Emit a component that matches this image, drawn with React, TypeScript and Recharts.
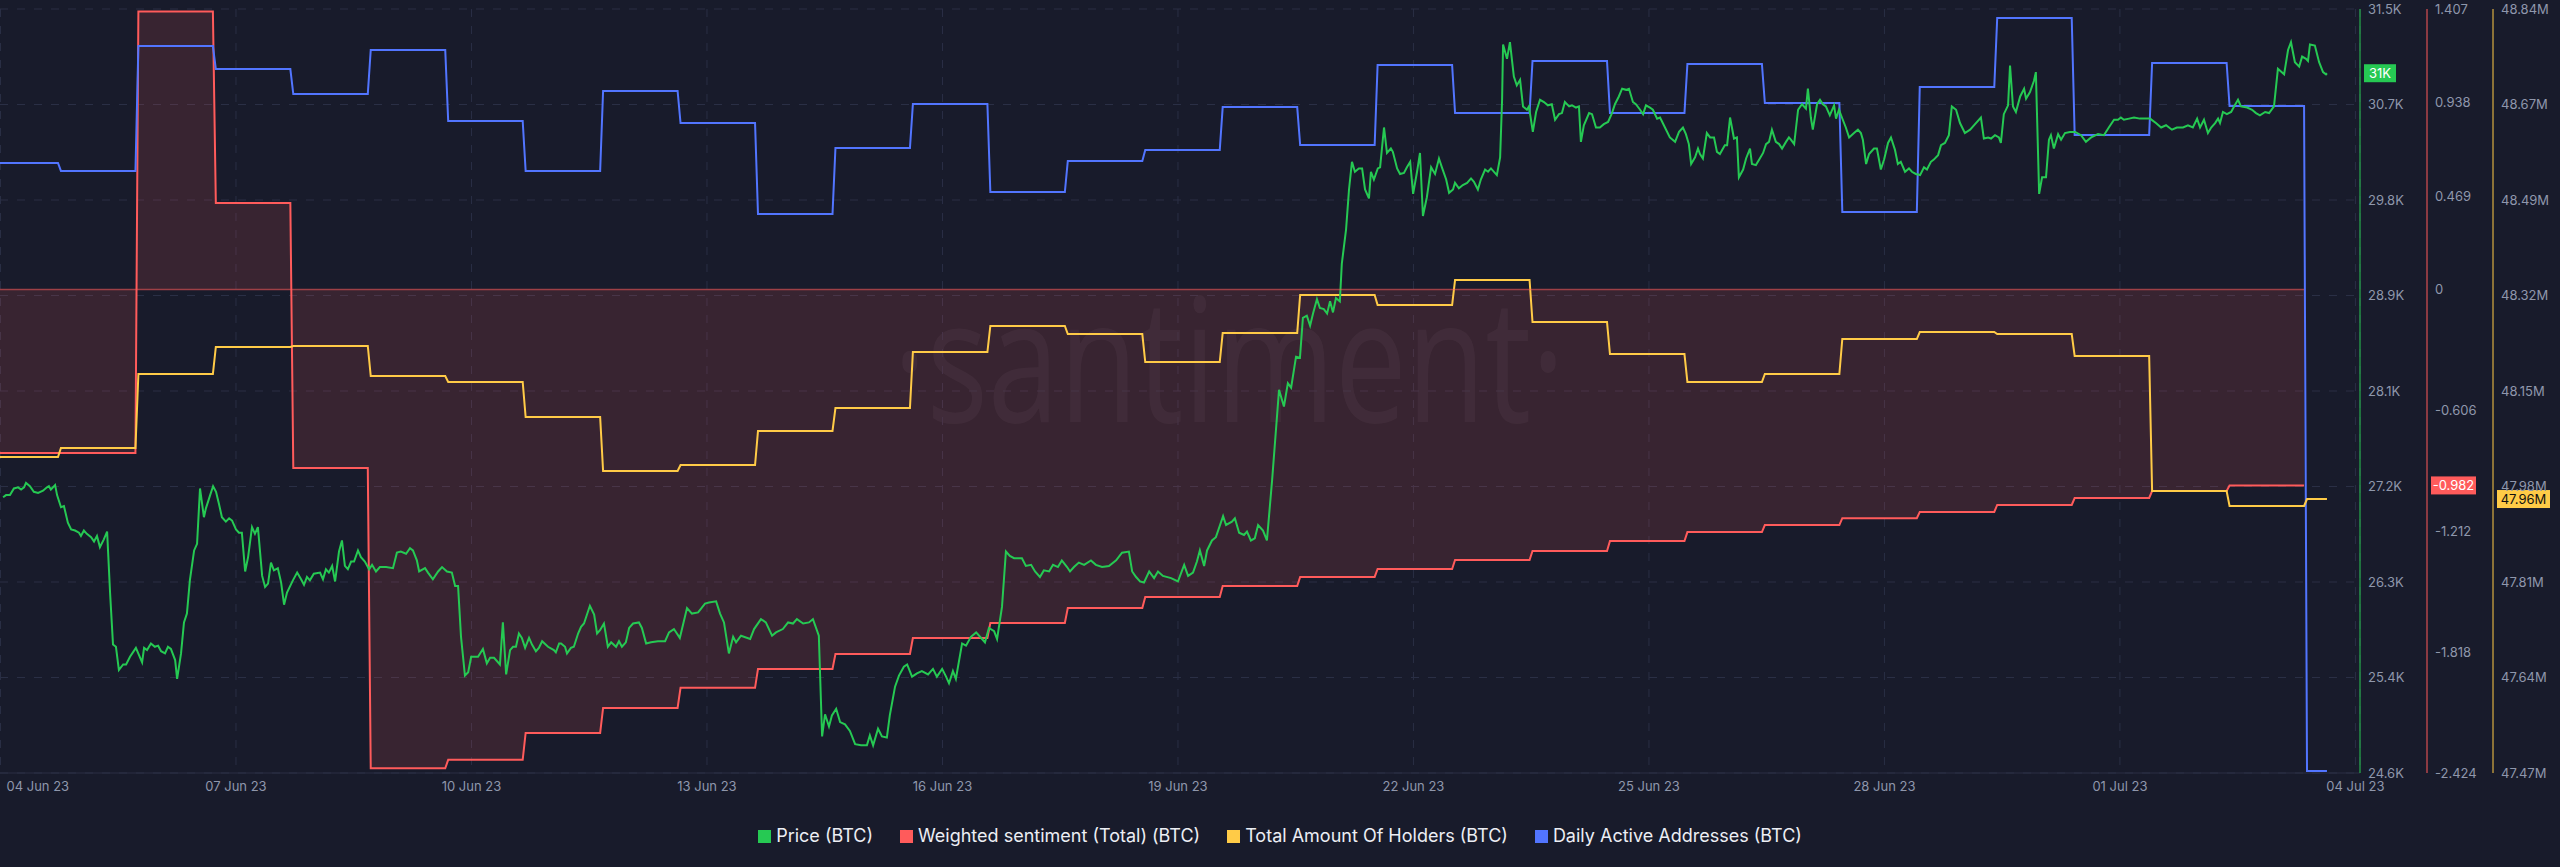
import React from 'react';
import { ComposedChart, Line, Area, XAxis, YAxis, CartesianGrid, ReferenceLine } from 'recharts';

const BG = '#181b2b';
const GRID = '#2a2f45';
const TICK = '#8f97ab';
const C_PRICE = '#26C953';
const C_SENT = '#FF5B5B';
const C_HOLD = '#FFCB47';
const C_DAA = '#5275FF';

// axis ids (Recharts orders right-side axes by id)
const AX_PRICE = 'a_price';
const AX_SENT = 'b_sent';
const AX_HOLD = 'c_hold';
const AX_DAA = 'd_daa';

// x axis: hours since 04 Jun 23 00:00
const DATE_TICKS = [0, 72, 144, 216, 288, 360, 432, 504, 576, 648, 720];
const DATE_LABELS = ['04 Jun 23', '07 Jun 23', '10 Jun 23', '13 Jun 23', '16 Jun 23', '19 Jun 23', '22 Jun 23', '25 Jun 23', '28 Jun 23', '01 Jul 23', '04 Jul 23'];

const PRICE_TICKS = [24600, 25462.5, 26325, 27187.5, 28050, 28912.5, 29775, 30637.5, 31500];
const PRICE_LABELS = ['24.6K', '25.4K', '26.3K', '27.2K', '28.1K', '28.9K', '29.8K', '30.7K', '31.5K'];
const SENT_TICKS = [-2.424, -1.818, -1.212, -0.606, 0, 0.469, 0.938, 1.407];
const SENT_LABELS = ['-2.424', '-1.818', '-1.212', '-0.606', '0', '0.469', '0.938', '1.407'];
const HOLD_TICKS = [47470000, 47641250, 47812500, 47983750, 48155000, 48326250, 48497500, 48668750, 48840000];
const HOLD_LABELS = ['47.47M', '47.64M', '47.81M', '47.98M', '48.15M', '48.32M', '48.49M', '48.67M', '48.84M'];

// daily series (one value per day segment)
const SENTIMENT = [-0.819, -0.819, 1.395, 0.434, -0.894, -2.4, -2.358, -2.223, -2.098, -1.997, -1.902, -1.827, -1.747, -1.672, -1.597, -1.541, -1.486, -1.441, -1.401, -1.356, -1.311, -1.261, -1.216, -1.181, -1.146, -1.115, -1.08, -1.045, -1.01, -0.982];
const HOLDERS_M = [48.0366, 48.0528, 48.1855, 48.2339, 48.2357, 48.1819, 48.1711, 48.1084, 48.0116, 48.0223, 48.0833, 48.1245, 48.2249, 48.2716, 48.2572, 48.207, 48.259, 48.3271, 48.3092, 48.354, 48.2787, 48.2213, 48.1711, 48.1855, 48.2482, 48.2608, 48.2572, 48.2178, 47.9757, 47.9488, 47.9613];
const DAA = [928700, 919800, 1058800, 1033200, 1005400, 1054400, 975400, 919800, 1008800, 973200, 871900, 945300, 994300, 896400, 930900, 943100, 990900, 948700, 1037700, 984300, 1042100, 984300, 1038800, 995400, 874100, 1013200, 1090000, 959800, 1039900, 992100, 252200];

const DAY0 = 17.58;
const DAY_LEN = 23.68;
const RAMP = 0.9;
const T_START = -0.15;
const T_END = 711.3;

// hourly price [hour, USD]
const PRICE: [number, number][] = [
[0.8,27090],[1.7,27110],[2.9,27110],[4.1,27170],[5.4,27180],[6.3,27160],[7.2,27180],[7.8,27220],[9.0,27190],[10.2,27140],[11.5,27130],[13.0,27150],[14.2,27180],[14.8,27190],[15.4,27160],[16.7,27200],[17.3,27110],[18.5,27000],[19.4,27010],[20.6,26860],[21.6,26800],[22.8,26790],[24.0,26770],[24.6,26740],[25.5,26790],[26.4,26760],[27.7,26730],[28.6,26690],[29.5,26740],[30.4,26640],[31.6,26710],[32.6,26780],[33.5,26230],[34.4,25760],[35.3,25740],[36.2,25530],[37.5,25580],[38.4,25580],[39.6,25650],[41.4,25730],[43.3,25600],[43.9,25730],[44.8,25710],[46.0,25770],[47.2,25740],[48.2,25750],[49.1,25700],[50.3,25680],[51.2,25740],[52.1,25720],[53.4,25620],[54.0,25450],[55.2,25680],[56.1,25960],[57.0,26040],[57.9,26340],[59.2,26610],[60.1,26670],[61.0,27170],[62.2,26910],[62.8,26990],[64.1,27110],[65.0,27190],[65.9,27140],[66.8,27030],[67.7,26910],[68.9,26870],[69.9,26900],[70.8,26880],[72.0,26800],[72.9,26770],[73.8,26770],[74.8,26420],[75.7,26550],[76.9,26820],[77.8,26760],[78.7,26820],[80.0,26380],[80.9,26280],[81.8,26310],[82.7,26500],[83.6,26430],[84.8,26450],[85.8,26320],[86.7,26120],[87.6,26230],[89.4,26340],[90.7,26410],[91.9,26350],[92.8,26300],[93.7,26370],[94.6,26340],[95.8,26400],[97.7,26410],[98.6,26350],[99.5,26440],[100.4,26410],[101.4,26470],[102.3,26330],[103.5,26600],[104.4,26700],[105.3,26470],[106.2,26440],[107.2,26510],[108.1,26510],[109.3,26610],[110.2,26550],[111.4,26510],[112.7,26440],[113.6,26480],[114.8,26420],[116.0,26460],[117.9,26460],[120.0,26450],[121.2,26590],[122.4,26600],[124.0,26580],[125.2,26630],[126.1,26610],[127.3,26520],[128.0,26420],[129.8,26450],[130.7,26410],[132.2,26350],[133.8,26420],[135.0,26460],[136.5,26420],[138.0,26410],[139.0,26290],[139.9,26290],[140.8,25830],[142.0,25480],[143.0,25510],[143.9,25650],[146.0,25650],[147.5,25720],[148.7,25590],[149.7,25640],[150.9,25640],[152.7,25580],[153.6,25960],[154.6,25490],[155.8,25710],[156.7,25740],[157.6,25740],[158.5,25860],[159.4,25820],[160.4,25730],[161.6,25820],[162.5,25760],[163.7,25700],[164.6,25730],[165.6,25790],[167.4,25740],[169.2,25710],[169.8,25690],[170.8,25770],[171.4,25770],[172.6,25740],[173.2,25680],[174.4,25730],[175.3,25740],[176.6,25860],[177.5,25920],[178.4,25950],[180.2,26110],[181.5,26030],[182.4,25860],[183.3,25890],[184.5,25950],[185.7,25740],[186.7,25780],[188.2,25740],[189.1,25790],[190.0,25740],[191.2,25780],[192.2,25910],[193.4,25950],[195.2,25960],[196.1,25910],[197.4,25770],[198.9,25780],[201.0,25790],[203.2,25790],[204.4,25870],[205.9,25900],[207.7,25820],[209.9,26090],[211.4,26040],[213.3,26050],[215.4,26130],[216.6,26140],[218.8,26150],[220.0,26040],[221.2,25960],[222.7,25680],[224.0,25830],[224.9,25780],[226.4,25840],[229.2,25810],[230.4,25900],[232.5,25990],[234.0,25960],[235.9,25840],[237.1,25870],[239.2,25900],[240.8,25960],[242.3,25950],[243.5,25990],[245.4,25950],[247.2,25960],[248.4,25990],[250.2,25840],[251.2,24930],[252.1,25130],[253.3,25020],[254.2,25120],[255.5,25180],[256.7,25060],[258.2,25040],[259.7,24980],[261.3,24860],[263.1,24850],[264.9,24850],[265.8,24940],[266.8,24850],[268.3,25000],[269.5,24930],[271.0,24920],[271.9,25120],[273.5,25380],[274.7,25480],[276.2,25560],[277.2,25580],[278.7,25470],[280.2,25500],[281.7,25520],[283.6,25490],[285.1,25540],[286.3,25470],[287.9,25540],[289.1,25470],[290.0,25410],[291.2,25520],[292.1,25450],[294.0,25770],[295.2,25750],[296.7,25830],[298.3,25870],[300.1,25810],[301.0,25780],[302.2,25910],[303.8,25880],[304.7,25810],[306.2,26100],[307.4,26600],[308.6,26560],[309.9,26540],[312.3,26540],[313.5,26470],[315.1,26480],[316.3,26420],[317.8,26370],[319.0,26430],[320.6,26420],[321.8,26480],[323.3,26460],[324.5,26520],[326.1,26460],[327.0,26420],[328.2,26460],[329.7,26500],[331.3,26480],[333.4,26520],[334.9,26480],[336.8,26460],[338.9,26470],[341.1,26520],[342.9,26590],[345.0,26600],[346.0,26420],[347.2,26370],[348.4,26330],[349.6,26320],[351.2,26420],[352.7,26360],[353.9,26420],[355.4,26380],[357.9,26360],[360.0,26330],[361.9,26480],[363.1,26380],[364.6,26410],[365.8,26510],[366.7,26610],[368.0,26470],[368.9,26610],[370.4,26700],[371.6,26730],[373.8,26920],[374.7,26840],[376.5,26870],[377.4,26900],[378.7,26770],[380.2,26750],[381.1,26780],[382.3,26700],[383.5,26720],[384.5,26840],[386.0,26790],[387.2,26700],[388.8,27250],[390.9,28060],[392.4,27910],[393.6,28120],[394.6,28080],[396.1,28360],[397.3,28350],[398.2,28710],[399.4,28730],[400.4,28640],[401.3,28750],[402.5,28880],[403.4,28800],[404.6,28790],[405.6,28750],[406.5,28860],[407.4,28760],[408.3,28890],[409.5,28860],[410.1,29200],[411.4,29510],[412.3,29870],[413.2,30120],[414.1,30030],[415.3,30060],[416.3,30060],[417.2,29870],[418.4,29790],[419.0,30030],[419.9,29960],[421.1,30060],[421.8,30070],[423.0,30430],[423.9,30200],[425.1,30240],[425.7,30210],[427.0,30060],[427.9,30010],[429.1,30020],[430.0,30070],[431.0,30120],[431.9,29830],[433.1,30030],[434.0,30200],[434.9,29630],[436.1,29800],[437.4,30070],[438.6,30010],[439.8,30150],[440.7,30070],[442.0,29960],[442.9,29840],[444.1,29870],[444.7,29930],[445.9,29880],[447.1,29910],[448.4,29930],[449.6,29970],[450.5,29940],[451.7,29870],[452.6,29960],[453.9,30050],[454.8,30030],[455.7,30060],[457.5,30000],[458.5,30160],[459.1,30680],[459.4,31180],[460.6,31050],[461.5,31200],[462.7,30890],[463.6,30810],[464.6,30860],[465.5,30620],[466.7,30590],[467.3,30620],[468.5,30390],[469.5,30570],[470.7,30680],[471.9,30660],[473.1,30630],[474.3,30640],[475.3,30500],[476.5,30550],[477.4,30560],[478.3,30660],[479.6,30620],[480.5,30630],[481.7,30610],[482.6,30620],[483.2,30300],[484.1,30450],[485.7,30560],[486.6,30550],[487.8,30430],[489.0,30430],[490.2,30460],[491.5,30480],[492.7,30560],[493.6,30640],[494.8,30710],[495.8,30780],[497.0,30770],[497.9,30780],[499.1,30660],[500.0,30640],[501.3,30590],[502.2,30550],[503.1,30630],[504.3,30610],[505.2,30590],[506.5,30510],[507.4,30520],[508.9,30430],[510.4,30340],[512.0,30300],[513.2,30390],[514.4,30430],[515.3,30370],[516.2,30280],[516.9,30100],[518.1,30160],[519.0,30240],[519.6,30190],[520.5,30150],[521.7,30380],[522.7,30340],[523.9,30340],[524.8,30210],[525.7,30190],[527.2,30270],[527.9,30270],[528.8,30520],[530.0,30330],[530.9,30340],[531.5,29980],[532.8,30050],[533.7,30150],[534.9,30240],[535.5,30100],[536.7,30090],[537.9,30150],[538.9,30200],[539.8,30280],[540.7,30300],[541.6,30410],[542.8,30300],[543.8,30280],[544.7,30240],[545.9,30300],[546.8,30340],[547.4,30320],[548.4,30280],[549.6,30590],[550.8,30640],[552.0,30600],[552.6,30780],[553.5,30520],[554.1,30410],[555.4,30640],[556.3,30680],[557.2,30640],[558.1,30620],[559.3,30540],[560.6,30630],[561.2,30510],[562.1,30590],[563.0,30520],[564.2,30430],[565.2,30340],[566.7,30380],[567.9,30410],[568.8,30380],[569.4,30320],[570.4,30100],[571.3,30190],[572.8,30240],[573.7,30240],[574.9,30050],[575.9,30140],[577.1,30290],[578.0,30340],[579.2,30230],[580.1,30100],[581.0,30120],[582.3,30030],[583.5,30060],[584.4,30030],[585.6,30010],[586.9,30000],[588.1,30070],[589.0,30050],[590.2,30120],[591.1,30140],[592.4,30180],[593.3,30270],[594.5,30290],[595.7,30360],[596.6,30620],[597.9,30590],[599.1,30470],[600.6,30380],[602.2,30410],[603.7,30460],[605.5,30520],[606.4,30330],[607.7,30340],[608.6,30330],[609.8,30360],[611.0,30340],[611.6,30290],[612.5,30550],[613.8,30630],[614.4,30990],[615.3,30620],[616.2,30570],[617.5,30710],[618.7,30780],[619.3,30690],[620.5,30750],[621.7,30850],[622.3,30930],[623.3,29830],[624.2,29980],[625.4,29980],[626.3,30320],[626.9,30360],[627.8,30240],[629.1,30370],[630.0,30320],[631.2,30380],[632.7,30390],[634.3,30390],[636.1,30360],[637.6,30300],[639.2,30340],[641.3,30370],[643.1,30360],[644.6,30430],[646.2,30500],[647.4,30500],[648.3,30520],[649.2,30500],[650.8,30510],[652.3,30520],[654.1,30510],[656.0,30510],[657.2,30510],[659.0,30470],[660.6,30430],[662.1,30450],[663.9,30410],[665.4,30430],[667.3,30430],[668.8,30450],[670.3,30430],[671.6,30510],[672.5,30430],[673.7,30500],[674.9,30380],[675.9,30430],[677.1,30470],[678.0,30510],[678.6,30470],[679.5,30570],[680.7,30550],[682.0,30570],[682.9,30620],[684.1,30680],[685.0,30620],[686.9,30610],[688.4,30590],[689.6,30560],[690.8,30540],[692.4,30570],[693.6,30560],[695.1,30620],[696.3,30960],[698.2,30910],[699.4,31130],[700.3,31200],[701.5,31020],[702.8,30980],[703.7,31070],[704.9,31050],[705.5,31030],[706.1,31180],[707.6,31170],[708.9,31020],[710.1,30930],[711.0,30910],[711.3,30920]
];

function stepSeries(values: number[], endT: number) {
  const pts: { t: number; v: number }[] = [];
  values.forEach((v, i) => {
    const start = i === 0 ? T_START : DAY0 + (i - 1) * DAY_LEN + RAMP;
    const end = i < values.length - 1 ? DAY0 + i * DAY_LEN : endT;
    pts.push({ t: start, v });
    pts.push({ t: end, v });
  });
  return pts;
}

const SENT_END = DAY0 + (SENTIMENT.length - 1) * DAY_LEN;
const priceData = PRICE.map(([t, v]) => ({ t, v }));
const sentData = stepSeries(SENTIMENT, SENT_END);
const zeroData = [{ t: T_START, v: 0 }, { t: SENT_END, v: 0 }];
const holdData = stepSeries(HOLDERS_M.map((m) => m * 1e6), T_END);
const daaData = stepSeries(DAA, T_END);

const lastPrice = PRICE[PRICE.length - 1][1];
const lastSent = SENTIMENT[SENTIMENT.length - 1];
const lastHold = HOLDERS_M[HOLDERS_M.length - 1] * 1e6;

const FONT = 'Inter, Roboto, "DejaVu Sans", sans-serif';

function makeRightTick(ticks: number[], labels: string[]) {
  return (props: any) => {
    const { x, y, payload } = props;
    const idx = ticks.findIndex((t) => Math.abs(t - payload.value) < 1e-6 * Math.max(1, Math.abs(t)));
    const label = idx >= 0 ? labels[idx] : String(payload.value);
    return (
      <text x={x} y={y} dy="0.355em" textAnchor="start" fill={TICK} fontSize={13} fontFamily={FONT}>
        {label}
      </text>
    );
  };
}

function DateTick(props: any) {
  const { x, y, payload } = props;
  const idx = DATE_TICKS.indexOf(payload.value);
  const first = idx === 0;
  return (
    <text x={first ? x + 6 : x} y={y} dy="0.71em" textAnchor={first ? 'start' : 'middle'} fill={TICK} fontSize={13} fontFamily={FONT}>
      {DATE_LABELS[idx]}
    </text>
  );
}

function Badge(props: any) {
  const { viewBox, text, bg, color, shift, boxWidth } = props;
  if (!viewBox) return null;
  const x = viewBox.x + viewBox.width + shift;
  const y = viewBox.y;
  return (
    <g>
      <rect x={x} y={y - 9} width={boxWidth} height={18} fill={bg} />
      <text x={x + boxWidth / 2} y={y} dy="0.36em" textAnchor="middle" fill={color} fontSize={13} fontFamily={FONT}>
        {text}
      </text>
    </g>
  );
}

const LEGEND = [
  { label: 'Price (BTC)', color: C_PRICE },
  { label: 'Weighted sentiment (Total) (BTC)', color: C_SENT },
  { label: 'Total Amount Of Holders (BTC)', color: C_HOLD },
  { label: 'Daily Active Addresses (BTC)', color: C_DAA },
];

export default function App() {
  return (
    <div style={{ position: 'absolute', left: 0, top: 0, width: 2560, height: 867, background: BG, overflow: 'hidden', fontFamily: FONT }}>
      <svg width={2560} height={867} style={{ position: 'absolute', left: 0, top: 0 }}>
        <text x={893} y={422} fontSize={172} fontFamily='"Open Sans", sans-serif' textLength={672} lengthAdjust="spacingAndGlyphs" fill="#ffffff" fillOpacity={0.045}>
          ·santiment·
        </text>
      </svg>
      <div style={{ position: 'absolute', left: 0, top: 0 }}>
        <ComposedChart width={2560} height={867} margin={{ top: 9, right: 0, bottom: 64, left: 0 }}>
          <CartesianGrid yAxisId={AX_PRICE} stroke={GRID} strokeDasharray="8 9" />
          <XAxis
            dataKey="t"
            type="number"
            domain={[T_START, 721.4]}
            allowDataOverflow
            ticks={DATE_TICKS}
            interval={0}
            height={30}
            tickSize={0}
            tickMargin={9}
            tickLine={false}
            axisLine={{ stroke: GRID }}
            tick={<DateTick />}
          />
          <YAxis yAxisId={AX_PRICE} orientation="right" width={67} domain={[24600, 31500]} ticks={PRICE_TICKS} interval={0} allowDataOverflow tickLine={false} tickSize={0} tickMargin={8} axisLine={{ stroke: C_PRICE }} tick={makeRightTick(PRICE_TICKS, PRICE_LABELS)} />
          <YAxis yAxisId={AX_SENT} orientation="right" width={66} domain={[-2.424, 1.407]} ticks={SENT_TICKS} interval={0} allowDataOverflow tickLine={false} tickSize={0} tickMargin={8} axisLine={{ stroke: C_SENT }} tick={makeRightTick(SENT_TICKS, SENT_LABELS)} />
          <YAxis yAxisId={AX_HOLD} orientation="right" width={67} domain={[47470000, 48840000]} ticks={HOLD_TICKS} interval={0} allowDataOverflow tickLine={false} tickSize={0} tickMargin={8} axisLine={{ stroke: C_HOLD }} tick={makeRightTick(HOLD_TICKS, HOLD_LABELS)} />
          <YAxis yAxisId={AX_DAA} orientation="right" hide domain={[250000, 1100000]} allowDataOverflow />

          <Line yAxisId={AX_DAA} data={daaData} dataKey="v" stroke={C_DAA} strokeWidth={2} dot={false} isAnimationActive={false} type="linear" />
          <Line yAxisId={AX_HOLD} data={holdData} dataKey="v" stroke={C_HOLD} strokeWidth={2} dot={false} isAnimationActive={false} type="linear" />
          <Line yAxisId={AX_PRICE} data={priceData} dataKey="v" stroke={C_PRICE} strokeWidth={2} dot={false} isAnimationActive={false} type="linear" />
          <Line yAxisId={AX_SENT} data={zeroData} dataKey="v" stroke={C_SENT} strokeOpacity={0.55} strokeWidth={1.5} dot={false} isAnimationActive={false} type="linear" />
          <Area yAxisId={AX_SENT} data={sentData} dataKey="v" baseValue={0} stroke={C_SENT} strokeWidth={2} fill={C_SENT} fillOpacity={0.14} dot={false} isAnimationActive={false} type="linear" />

          <ReferenceLine yAxisId={AX_PRICE} y={lastPrice} stroke="none" strokeOpacity={0} label={<Badge text="31K" bg={C_PRICE} color="#ffffff" shift={4} boxWidth={32} />} />
          <ReferenceLine yAxisId={AX_SENT} y={lastSent} stroke="none" strokeOpacity={0} label={<Badge text="-0.982" bg={C_SENT} color="#ffffff" shift={71} boxWidth={45} />} />
          <ReferenceLine yAxisId={AX_HOLD} y={lastHold} stroke="none" strokeOpacity={0} label={<Badge text="47.96M" bg={C_HOLD} color="#111111" shift={137} boxWidth={53} />} />
        </ComposedChart>
      </div>
      <div style={{ position: 'absolute', left: 0, top: 825, width: 2560, display: 'flex', justifyContent: 'center', alignItems: 'center', gap: 27 }}>
        {LEGEND.map((l) => (
          <div key={l.label} style={{ display: 'flex', alignItems: 'center', gap: 5 }}>
            <div style={{ width: 13, height: 13, background: l.color }} />
            <span style={{ color: '#eceef4', fontSize: 18, lineHeight: '22px' }}>{l.label}</span>
          </div>
        ))}
      </div>
    </div>
  );
}
